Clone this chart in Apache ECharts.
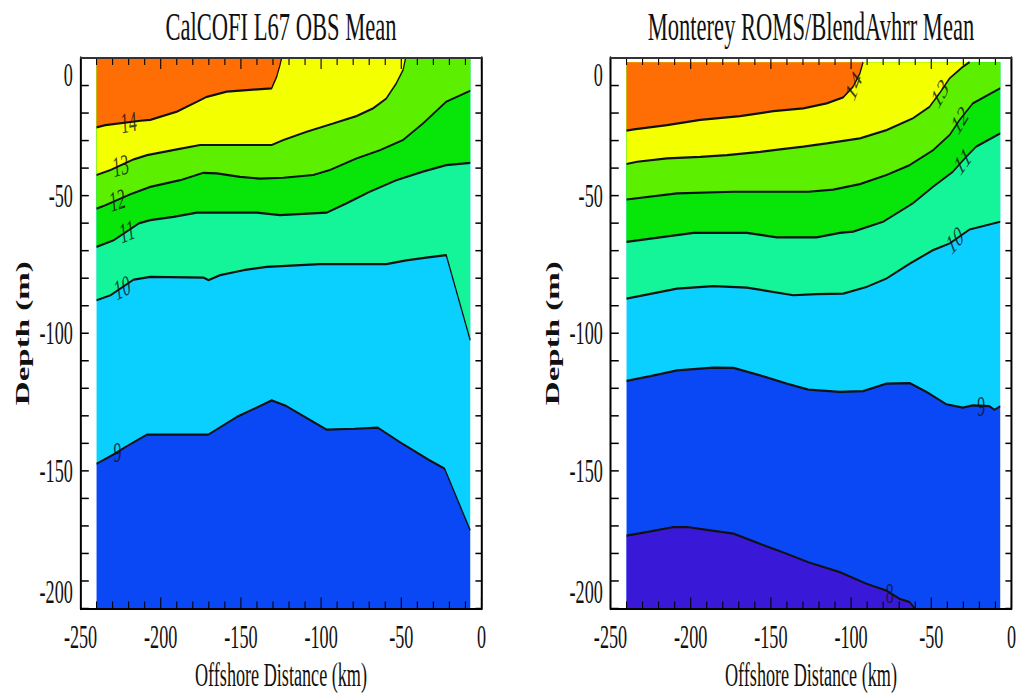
<!DOCTYPE html>
<html>
<head>
<meta charset="utf-8">
<script src="https://cdn.jsdelivr.net/npm/echarts@6/dist/echarts.min.js"></script>
<style>
html,body{margin:0;padding:0;background:#fff;overflow:hidden;width:1019px;height:698px;}
#wrap{width:1019px;height:698px;overflow:hidden;position:relative;background:#fff;}
.layer{position:absolute;left:0;top:0;width:1853px;height:698px;transform:scaleX(0.55);transform-origin:0 0;}
#axes{pointer-events:none;}
</style>
</head>
<body>
<div id="wrap"><div id="chart" class="layer"></div><div id="axes" class="layer"></div></div>
<script>
// ---------------- DATA (isotherm depth in m vs offshore distance in km) ----------------
const panelTitles = ['CalCOFI L67 OBS Mean', 'Monterey ROMS/BlendAvhrr Mean'];
const xAxisName = 'Offshore Distance (km)';
const yAxisName = 'Depth (m)';

// tick positions (km and m)
const xTickValues = [-250,-240,-230,-220,-210,-200,-190,-180,-170,-160,-150,-140,-130,-120,-110,-100,-90,-80,-70,-60,-50,-40,-30,-20,-10,0];
const yTickValues = [-200,-190,-180,-170,-160,-150,-140,-130,-120,-110,-100,-90,-80,-70,-60,-50,-40,-30,-20,-10,0];

// CalCOFI observations
const obs14 = [[-240,-25.2],[-234.5,-24.4],[-212.7,-22.8],[-206.5,-22.5],[-189.9,-19.5],[-177.4,-15.9],[-171.2,-14.1],[-158.8,-12.2],[-144.3,-11.6],[-130.8,-11.0],[-127.7,-6.8],[-125.6,-2.5],[-124.6,0]];
const obs13 = [[-240,-42.5],[-231.3,-40.7],[-216.8,-36.8],[-208.5,-35.3],[-189.9,-33.2],[-175.4,-31.6],[-130.8,-31.6],[-123.5,-29.8],[-109,-26.8],[-92.5,-23.8],[-78,-21.1],[-67.6,-18.3],[-59.3,-14.7],[-53.1,-9.2],[-48.9,-4.4],[-47.3,0]];
const obs12 = [[-240,-54.7],[-234.5,-53.5],[-218.9,-49.5],[-206.5,-46.8],[-187.8,-44.4],[-173.3,-41.7],[-165,-41.9],[-150.5,-43.2],[-138.1,-43.8],[-123.5,-43.5],[-104.9,-42.5],[-94.5,-40.7],[-78,-36.5],[-63.4,-33.5],[-48.9,-29.8],[-36.5,-23.8],[-22,-15.9],[-7,-11.9]];
const obs11 = [[-240,-68.6],[-229.3,-66.2],[-213.7,-60.1],[-206.5,-58.9],[-192,-57.7],[-177.4,-56.2],[-140.1,-56.2],[-125.6,-57.1],[-96.6,-56.2],[-84.2,-52.8],[-69.7,-48.6],[-53.1,-44.4],[-36.5,-41.3],[-22,-38.9],[-7,-38.1]];
const obs10 = [[-240,-88],[-231.3,-86.2],[-216.8,-80.5],[-206.5,-79.5],[-173.3,-79.8],[-170.2,-80.7],[-162.9,-78.9],[-148.4,-77.1],[-133.9,-75.9],[-100.7,-74.9],[-59.3,-74.9],[-46.9,-73.5],[-34.4,-72.5],[-22,-71.6],[-7,-102.5]];
const obs9  = [[-240,-147.4],[-229.3,-144],[-222,-141.3],[-208.5,-136.8],[-170.2,-136.8],[-152.6,-130.4],[-130.8,-124.4],[-121.5,-126.5],[-96.6,-135],[-79,-134.7],[-64.5,-134.3],[-51,-139.5],[-32.3,-146.2],[-23,-149.2],[-7,-171.6]];

// Monterey ROMS / BlendAvhrr model
const roms14 = [[-240,-26.4],[-235.5,-25.9],[-214.7,-24.4],[-194,-22.5],[-169.2,-21.1],[-148.4,-19.3],[-129.8,-18.3],[-115.2,-16.5],[-104.9,-14.3],[-98.7,-10.4],[-94.5,-5.6],[-92.5,-1.5]];
const roms13 = [[-240,-38.5],[-233.4,-37.7],[-214.7,-36.5],[-194,-35.9],[-177.4,-35.3],[-156.7,-34.1],[-144.3,-33.2],[-129.8,-32.2],[-115.2,-31],[-94.5,-29.2],[-77.9,-26.2],[-61.4,-21.9],[-51,-17.7],[-44.8,-12.8],[-38.6,-7.4],[-30.3,-3.2],[-26.1,-1.5]];
const roms12 = [[-240,-51.4],[-208.5,-49.2],[-173.3,-48.6],[-126.6,-48.6],[-111.1,-47.8],[-94.5,-45.8],[-77.9,-42.5],[-63.4,-38.9],[-48.9,-33.5],[-38.6,-28],[-32.3,-22.5],[-24.1,-16.5],[-7,-11]];
const roms11 = [[-240,-66.8],[-198.2,-63.5],[-165,-63.5],[-146.3,-65.2],[-121.5,-65.2],[-107,-63.5],[-98.7,-63.1],[-80,-59.5],[-61.4,-52.8],[-48.9,-46.8],[-36.5,-41.3],[-28.2,-35.9],[-22,-32.2],[-7,-27.4]];
const roms10 = [[-240,-87.4],[-208.5,-83.8],[-185.8,-82.9],[-165,-83.4],[-136,-86.2],[-121.5,-85.8],[-104.9,-85.6],[-90.4,-83.2],[-77.9,-80.1],[-63.4,-74.7],[-48.9,-69.8],[-38.6,-67.4],[-26.1,-62.3],[-7,-59.5]];
const roms9  = [[-240,-117.3],[-225.1,-115.6],[-208.5,-113.5],[-185.8,-112.5],[-173.3,-112.6],[-156.7,-115.3],[-140.1,-118.3],[-126.6,-120.5],[-107,-121.3],[-92.5,-121],[-77.9,-118.3],[-63.4,-118.1],[-53,-121.3],[-40.6,-125.8],[-30.3,-127],[-24.1,-126.2],[-13.7,-126.5],[-10.6,-127.8],[-7,-126.5]];
const roms8  = [[-240,-173.5],[-225.1,-172],[-210.6,-170.4],[-202.3,-170.4],[-189.9,-171.4],[-173.3,-172.8],[-156.7,-176.5],[-140.1,-180.1],[-126.6,-183.2],[-107,-186.8],[-90.4,-191],[-77.9,-193.5],[-69.7,-196.5],[-63.4,-197.7],[-60.3,-200]];

// contour label positions (x in km along each isotherm)
const obsLabelX  = {14:-220, 13:-225, 12:-227, 11:-221, 10:-224, 9:-227};
const romsLabelX = {14:-98.5, 13:-44.8, 12:-32.3, 11:-30.5, 10:-35.4, 9:-18.8, 8:-75.9};

// data top depth of each section
const obsTop = 0;
const romsTop = -1.5;

// ---------------- STYLE ----------------
const FONT = "'Liberation Serif','Times New Roman',serif";
const bandAbove = {14:'#FF6D05', 13:'#F4FF00', 12:'#5CF000', 11:'#08E508', 10:'#14F59A', 9:'#0AD0FF'};
const colBelow9 = '#0A48F5';
const colBelow8 = '#3A18D8';
const INK = '#111';

const X_MIN = -250, X_MAX = 0, Y_MIN = -200, Y_MAX = 0;

function yAt(line, x){
  for (let i = 0; i < line.length - 1; i++){
    const a = line[i], b = line[i+1];
    if (x >= a[0] && x <= b[0]) return a[1] + (b[1]-a[1])*(x-a[0])/(b[0]-a[0]);
  }
  return line[line.length-1][1];
}

const labelRot = [
  {14:6, 13:9, 12:10, 11:12, 10:16, 9:0},
  {14:56, 13:44, 12:42, 11:38, 10:33, 9:0, 8:0}
];

function panelSeries(g, lines, labelX, topVal){
  const xi = g, yi = g;
  const s = [];
  const base = {type:'line', xAxisIndex:xi, yAxisIndex:yi, showSymbol:false, symbol:'none', silent:true, animation:false};
  s.push(Object.assign({}, base, {data:lines[9], z:1, lineStyle:{opacity:0}, areaStyle:{color:colBelow9, opacity:1, origin:'start'}}));
  if (lines[8]) s.push(Object.assign({}, base, {data:lines[8], z:1, lineStyle:{opacity:0}, areaStyle:{color:colBelow8, opacity:1, origin:'start'}}));
  [9,10,11,12,13,14].forEach(k => {
    s.push(Object.assign({}, base, {data:lines[k], z:1, lineStyle:{opacity:0}, areaStyle:{color:bandAbove[k], opacity:1, origin: topVal === 0 ? 'end' : topVal}}));
  });
  Object.keys(lines).forEach(k => {
    s.push(Object.assign({}, base, {name: k + ' °C', data:lines[k], z:3, lineStyle:{color:INK, width:2.2}}));
  });
  const ldata = Object.keys(labelX).map(k => ({
    value:[labelX[k], yAt(lines[k], labelX[k])],
    label:{formatter: String(k), rotate: labelRot[g][k]}
  }));
  s.push({type:'scatter', xAxisIndex:xi, yAxisIndex:yi, data:ldata, symbolSize:1, z:4, silent:true, animation:false,
    itemStyle:{color:'transparent'},
    label:{show:true, position:'inside', fontFamily:FONT, fontSize:29, color:INK}});
  return s;
}

// tick marks drawn through the axis scales (inside ticks on all four sides)
function tickSeries(g, side){
  const vals = (side === 'bottom' || side === 'top') ? xTickValues : yTickValues;
  return {
    type:'custom', xAxisIndex:g, yAxisIndex:g, z:10, silent:true, animation:false, clip:false,
    data: vals.map(v => [v, v % 50 === 0 ? 1 : 0]),
    renderItem: function(params, api){
      const v = api.value(0), major = api.value(1) === 1;
      let p, q, w;
      if (side === 'bottom'){ p = api.coord([v, Y_MIN]); q = [p[0], p[1] - (major ? 11 : 7)]; w = 2; }
      else if (side === 'top'){ p = api.coord([v, Y_MAX]); q = [p[0], p[1] + (major ? 11 : 7)]; w = 2; }
      else if (side === 'left'){ p = api.coord([X_MIN, v]); q = [p[0] + 15, p[1]]; w = 1.5; }
      else { p = api.coord([X_MAX, v]); q = [p[0] - 11, p[1]]; w = 1.5; }
      return {type:'line', shape:{x1:p[0], y1:p[1], x2:q[0], y2:q[1]}, style:{stroke:'#000', lineWidth:w}};
    }
  };
}

const grids = [
  {left:146.4, top:58, width:729, height:550.5},
  {left:1110, top:58, width:729, height:550.5}
];

// ---- base layer: titles, filled bands, isotherms, contour labels, ticks ----
const baseX = [0,1].map(g => ({gridIndex:g, type:'value', min:X_MIN, max:X_MAX, interval:50, show:false}));
const baseY = [0,1].map(g => ({gridIndex:g, type:'value', min:Y_MIN, max:Y_MAX, interval:50, show:false}));

const obsLines  = {14:obs14, 13:obs13, 12:obs12, 11:obs11, 10:obs10, 9:obs9};
const romsLines = {14:roms14, 13:roms13, 12:roms12, 11:roms11, 10:roms10, 9:roms9, 8:roms8};
const series = [].concat(
  panelSeries(0, obsLines, obsLabelX, obsTop),
  panelSeries(1, romsLines, romsLabelX, romsTop),
  [0,1].reduce((acc, g) => acc.concat(['bottom','top','left','right'].map(sd => tickSeries(g, sd))), [])
);

const titles = panelTitles.map((t, g) => ({
  text:t, left: grids[g].left + grids[g].width/2, top:6, textAlign:'center', padding:0,
  textStyle:{fontFamily:FONT, fontSize:41, fontWeight:'normal', color:INK}
}));

const chart = echarts.init(document.getElementById('chart'), null, {renderer:'svg', width:1853, height:698});
chart.setOption({
  animation:false, backgroundColor:'#fff',
  title:titles, grid:grids, xAxis:baseX, yAxis:baseY, series:series
});

// ---- overlay layer: frame, tick labels, axis names ----
const axisLabelStyle = {fontFamily:FONT, fontSize:33, color:INK};
const xAxes = [], yAxes = [];
[0,1].forEach(g => {
  xAxes.push({gridIndex:g, type:'value', min:X_MIN, max:X_MAX, interval:50, position:'bottom', z:5,
    axisLine:{show:true, onZero:false, lineStyle:{color:'#000', width:2}},
    axisTick:{show:false}, minorTick:{show:false}, splitLine:{show:false},
    axisLabel:Object.assign({margin:12, showMinLabel:true, showMaxLabel:true, hideOverlap:false}, axisLabelStyle),
    name:xAxisName, nameLocation:'middle', nameGap:48, nameTextStyle:axisLabelStyle});
  xAxes.push({gridIndex:g, type:'value', min:X_MIN, max:X_MAX, interval:50, position:'top', z:5,
    axisLine:{show:true, onZero:false, lineStyle:{color:'#333', width:2}},
    axisTick:{show:false}, minorTick:{show:false}, splitLine:{show:false}, axisLabel:{show:false}});
  yAxes.push({gridIndex:g, type:'value', min:Y_MIN, max:Y_MAX, interval:50, position:'left', z:5,
    axisLine:{show:true, onZero:false, lineStyle:{color:'#000', width:3.6}},
    axisTick:{show:false}, minorTick:{show:false}, splitLine:{show:false},
    axisLabel:Object.assign({margin:14, showMinLabel:true, showMaxLabel:true, hideOverlap:false,
      verticalAlignMinLabel:'bottom', verticalAlignMaxLabel:'top'}, axisLabelStyle),
    name:yAxisName, nameLocation:'middle', nameGap:89, nameTextStyle:Object.assign({}, axisLabelStyle, {fontWeight:'bold'})});
  yAxes.push({gridIndex:g, type:'value', min:Y_MIN, max:Y_MAX, interval:50, position:'right', z:5,
    axisLine:{show:true, onZero:false, lineStyle:{color:'#000', width:3.6}},
    axisTick:{show:false}, minorTick:{show:false}, splitLine:{show:false}, axisLabel:{show:false}});
});

const axesChart = echarts.init(document.getElementById('axes'), null, {renderer:'svg', width:1853, height:698});
axesChart.setOption({
  animation:false,
  grid:grids, xAxis:xAxes, yAxis:yAxes,
  series:[
    {type:'line', xAxisIndex:0, yAxisIndex:0, data:[], silent:true},
    {type:'line', xAxisIndex:2, yAxisIndex:2, data:[], silent:true}
  ]
});
</script>
</body>
</html>
